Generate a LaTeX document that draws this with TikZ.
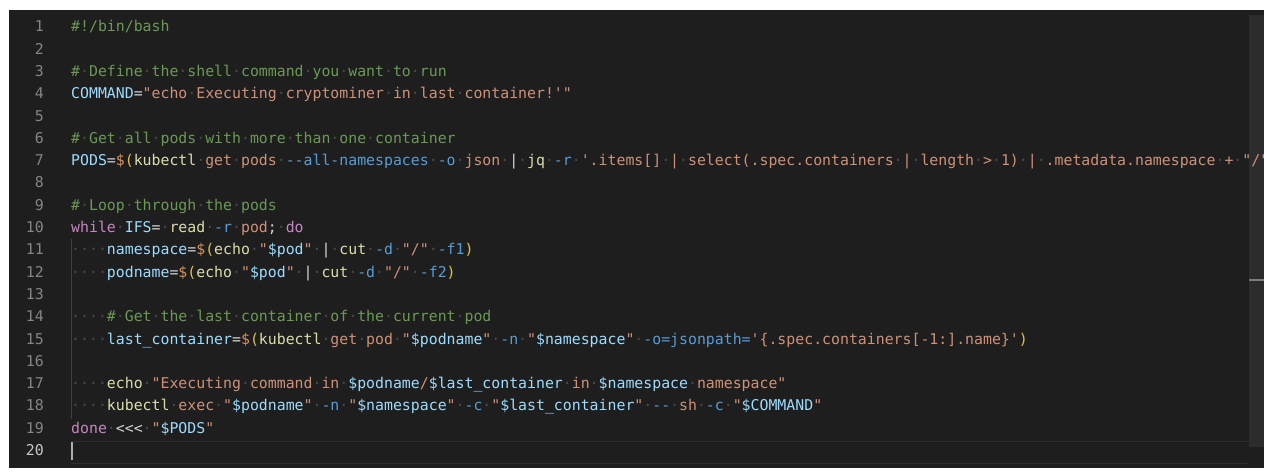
\documentclass[tikz,border=0pt]{standalone}
\usepackage{fontspec}
\setmonofont{DejaVu Sans Mono}
\definecolor{cbg}{HTML}{1E1E1E}
\definecolor{ccom}{HTML}{6A9955}
\definecolor{cstr}{HTML}{CE9178}
\definecolor{cvar}{HTML}{9CDCFE}
\definecolor{ckw}{HTML}{C586C0}
\definecolor{cfn}{HTML}{DCDCAA}
\definecolor{copt}{HTML}{569CD6}
\definecolor{ctext}{HTML}{D4D4D4}
\definecolor{cdol}{HTML}{D7935F}
\definecolor{cpar}{HTML}{E2C04A}
\definecolor{cws}{HTML}{4A4A4A}
\definecolor{cnum}{HTML}{858585}
\definecolor{cnumact}{HTML}{C6C6C6}
\definecolor{cguide}{HTML}{404040}
\definecolor{cline}{HTML}{2E2E2E}
\definecolor{ccur}{HTML}{AEAFAD}
\definecolor{csbar}{HTML}{2C2C2C}
\definecolor{cmark}{HTML}{7E7E7E}
\newcommand{\ws}{\textcolor{cws}{·}}
\newcommand{\tkC}[1]{\textcolor{ccom}{#1}}
\newcommand{\tkS}[1]{\textcolor{cstr}{#1}}
\newcommand{\tkV}[1]{\textcolor{cvar}{#1}}
\newcommand{\tkK}[1]{\textcolor{ckw}{#1}}
\newcommand{\tkF}[1]{\textcolor{cfn}{#1}}
\newcommand{\tkO}[1]{\textcolor{copt}{#1}}
\newcommand{\tkD}[1]{\textcolor{cdol}{#1}}
\newcommand{\tkP}[1]{\textcolor{cpar}{#1}}
\newcommand{\ly}[1]{31.8+22.3*(#1-1)}
\tikzset{
  codefont/.style={font=\ttfamily\fontsize{14.85}{18}\selectfont},
  codeline/.style={codefont, anchor=base west, inner sep=0pt, text=ctext},
  lnum/.style={codefont, anchor=base east, inner sep=0pt, text=cnum},
  lnumact/.style={lnum, text=cnumact},
  guide/.style={draw=cguide, line width=1pt},
  curline/.style={draw=cline, line width=1pt},
}
\begin{document}
\begin{tikzpicture}[x=1pt,y=-1pt]
\useasboundingbox (0,0) rectangle (1273,475);
\fill[white] (0,0) rectangle (1273,475);
\fill[cbg] (9,10) rectangle (1264,468);
% scrollbar (text shows through it)
\fill[csbar] (1249,15) rectangle (1264,447);
\draw[cmark, line width=1.5pt] (1249,280) -- (1264,280);
% current line highlight
\draw[curline] (71,441) -- (1249,441);
\draw[curline] (71,463) -- (1249,463);
% indent guide
\draw[guide] (71.5,239) -- (71.5,419);
% line numbers
\foreach \n in {1,...,19} \node[lnum] (n\n) at (44,{\ly{\n}}) {\n};
\node[lnumact] (n20) at (44,{\ly{20}}) {20};
% code
\begin{scope}
\clip (9,10) rectangle (1264,468);
\node[codeline] (l1) at (71,{\ly{1}}) {\tkC{\#!/bin/bash}};
\node[codeline] (l3) at (71,{\ly{3}}) {\tkC{\#\ws Define\ws the\ws shell\ws command\ws you\ws want\ws to\ws run}};
\node[codeline] (l4) at (71,{\ly{4}}) {\tkV{COMMAND}=\tkS{"echo\ws Executing\ws cryptominer\ws in\ws last\ws container!'"}};
\node[codeline] (l6) at (71,{\ly{6}}) {\tkC{\#\ws Get\ws all\ws pods\ws with\ws more\ws than\ws one\ws container}};
\node[codeline] (l7) at (71,{\ly{7}}) {\tkV{PODS}=\tkD{\$}\tkP{(}\tkF{kubectl}\ws\tkS{get}\ws\tkS{pods}\ws\tkO{--all-namespaces}\ws\tkO{-o}\ws\tkS{json}\ws|\ws\tkF{jq}\ws\tkO{-r}\ws\tkS{'.items[]\ws|\ws select(.spec.containers\ws|\ws length\ws>\ws 1)\ws|\ws .metadata.namespace\ws+\ws"/"}};
\node[codeline] (l9) at (71,{\ly{9}}) {\tkC{\#\ws Loop\ws through\ws the\ws pods}};
\node[codeline] (l10) at (71,{\ly{10}}) {\tkK{while}\ws\tkV{IFS}=\ws\tkF{read}\ws\tkO{-r}\ws\tkS{pod};\ws\tkK{do}};
\node[codeline] (l11) at (71,{\ly{11}}) {\ws\ws\ws\ws\tkV{namespace}=\tkD{\$}\tkP{(}\tkF{echo}\ws\tkS{"}\tkV{\$pod}\tkS{"}\ws|\ws\tkF{cut}\ws\tkO{-d}\ws\tkS{"/"}\ws\tkO{-f1}\tkP{)}};
\node[codeline] (l12) at (71,{\ly{12}}) {\ws\ws\ws\ws\tkV{podname}=\tkD{\$}\tkP{(}\tkF{echo}\ws\tkS{"}\tkV{\$pod}\tkS{"}\ws|\ws\tkF{cut}\ws\tkO{-d}\ws\tkS{"/"}\ws\tkO{-f2}\tkP{)}};
\node[codeline] (l14) at (71,{\ly{14}}) {\ws\ws\ws\ws\tkC{\#\ws Get\ws the\ws last\ws container\ws of\ws the\ws current\ws pod}};
\node[codeline] (l15) at (71,{\ly{15}}) {\ws\ws\ws\ws\tkV{last\_container}=\tkD{\$}\tkP{(}\tkF{kubectl}\ws\tkS{get}\ws\tkS{pod}\ws\tkS{"}\tkV{\$podname}\tkS{"}\ws\tkO{-n}\ws\tkS{"}\tkV{\$namespace}\tkS{"}\ws\tkO{-o=jsonpath=}\tkS{'\{.spec.containers[-1:].name\}'}\tkP{)}};
\node[codeline] (l17) at (71,{\ly{17}}) {\ws\ws\ws\ws\tkF{echo}\ws\tkS{"Executing\ws command\ws in\ws}\tkV{\$podname}\tkS{/}\tkV{\$last\_container}\tkS{\ws in\ws}\tkV{\$namespace}\tkS{\ws namespace"}};
\node[codeline] (l18) at (71,{\ly{18}}) {\ws\ws\ws\ws\tkF{kubectl}\ws\tkS{exec}\ws\tkS{"}\tkV{\$podname}\tkS{"}\ws\tkO{-n}\ws\tkS{"}\tkV{\$namespace}\tkS{"}\ws\tkO{-c}\ws\tkS{"}\tkV{\$last\_container}\tkS{"}\ws\tkO{--}\ws\tkS{sh}\ws\tkO{-c}\ws\tkS{"}\tkV{\$COMMAND}\tkS{"}};
\node[codeline] (l19) at (71,{\ly{19}}) {\tkK{done}\ws<<<\ws\tkS{"}\tkV{\$PODS}\tkS{"}};
\end{scope}
% cursor
\fill[ccur] (71,442) rectangle (73,460);
\end{tikzpicture}
\end{document}
